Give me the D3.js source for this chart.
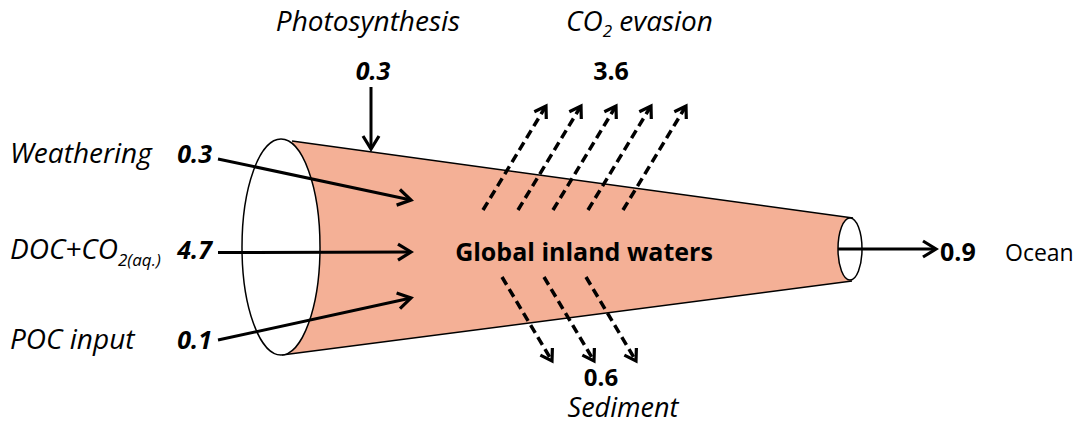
<!DOCTYPE html>
<html>
<head>
<meta charset="utf-8">
<script src="https://cdn.jsdelivr.net/npm/d3@7"></script>
<style>
  body { margin: 0; background: #fff; }
  svg text { font-family: "Open Sans", Lato, sans-serif; fill: #000; }
</style>
</head>
<body>
<div id="chart"></div>
<script>
// carbon fluxes (Pg C / yr)
var inputNames = ["Weathering", "DOC+CO2", "POC input"];
var inputValues = ["0.3", "4.7", "0.1"];
var photoValue = "0.3";
var evasionValue = "3.6";
var sedimentValue = "0.6";
var oceanValue = "0.9";
var evasionArrows = [0, 1, 2, 3, 4];
var sedimentArrows = [0, 1, 2];

var w = 1085, h = 425, fs = 25, fsI = 28, fsR = 23;

var svg = d3.select("#chart").append("svg")
    .attr("width", w)
    .attr("height", h);

var defs = svg.append("defs");
function addMarker(id, len, half) {
  defs.append("marker")
    .attr("id", id)
    .attr("viewBox", (-len - 3) + " " + (-half - 3) + " " + (len + 6) + " " + (2 * half + 6))
    .attr("refX", 0).attr("refY", 0)
    .attr("markerUnits", "userSpaceOnUse")
    .attr("markerWidth", len + 6).attr("markerHeight", 2 * half + 6)
    .attr("orient", "auto")
    .append("path")
    .attr("d", "M" + (-len) + "," + (-half) + " L0,0 L" + (-len) + "," + half)
    .attr("fill", "none")
    .attr("stroke", "#000")
    .attr("stroke-width", 3.2)
    .attr("stroke-linejoin", "miter");
}
addMarker("head", 13, 8);
addMarker("headS", 11, 7);

// river position along the cone
var xRiver = d3.scaleLinear().domain([0, 1]).range([282, 850]);
var topEdge = d3.scaleLinear().domain([0, 1]).range([141, 218]);
var botEdge = d3.scaleLinear().domain([0, 1]).range([355, 281]);

// cone
svg.append("path")
  .attr("d", "M" + (xRiver(0) + 10) + "," + topEdge(0) + " L" + (xRiver(1) + 3) + "," + topEdge(1) +
             " L" + (xRiver(1) + 2) + "," + botEdge(1) + " L" + xRiver(0) + "," + botEdge(0) + "Z")
  .attr("fill", "#F4B096");
svg.append("line")
  .attr("x1", xRiver(0) + 10).attr("y1", topEdge(0))
  .attr("x2", xRiver(1) + 3).attr("y2", topEdge(1))
  .attr("stroke", "#000").attr("stroke-width", 1.5);
svg.append("line")
  .attr("x1", xRiver(0)).attr("y1", botEdge(0))
  .attr("x2", xRiver(1) + 2).attr("y2", botEdge(1))
  .attr("stroke", "#000").attr("stroke-width", 1.5);

// open ends
svg.append("ellipse")
  .attr("cx", 281).attr("cy", 247).attr("rx", 39).attr("ry", 108)
  .attr("fill", "#fff").attr("stroke", "#000").attr("stroke-width", 1.5);
svg.append("ellipse")
  .attr("cx", 850).attr("cy", 249).attr("rx", 12).attr("ry", 31)
  .attr("fill", "#fff").attr("stroke", "#000").attr("stroke-width", 1.5);

// input arrows
var yStart = d3.scalePoint().domain(inputNames).range([159, 340]);
var yEnd = d3.scalePoint().domain(inputNames).range([200, 298]);
var yLabel = d3.scalePoint().domain(inputNames).range([163, 349]);

svg.selectAll("line.input").data(inputNames).enter().append("line")
  .attr("class", "input")
  .attr("x1", 218).attr("y1", function(d) { return yStart(d) + (d == "DOC+CO2" ? 3 : 0); })
  .attr("x2", 411).attr("y2", function(d) { return yEnd(d) + (d == "DOC+CO2" ? 3 : 0); })
  .attr("stroke", "#000").attr("stroke-width", 3)
  .attr("marker-end", "url(#head)");

var lab = svg.selectAll("text.inlab").data(inputNames).enter().append("text")
  .attr("class", "inlab")
  .attr("x", 10)
  .attr("y", function(d) { return yLabel(d) + (d == "DOC+CO2" ? 3 : 0); })
  .attr("font-size", fsI)
  .attr("font-style", "italic");
lab.each(function(d) {
  var t = d3.select(this);
  if (d == "DOC+CO2") {
    t.append("tspan").text("DOC+CO");
    t.append("tspan").attr("font-size", 17).attr("dy", 7).text("2(aq.)");
  } else {
    t.text(d);
  }
});

svg.selectAll("text.inval").data(inputValues).enter().append("text")
  .attr("class", "inval")
  .attr("x", 212)
  .attr("y", function(d, i) { return yLabel(inputNames[i]) + (i == 1 ? 3 : 0); })
  .attr("text-anchor", "end")
  .attr("font-size", fs)
  .attr("font-weight", "bold")
  .attr("font-style", "italic")
  .text(function(d) { return d; });

// photosynthesis
svg.append("text").attr("x", 368).attr("y", 31)
  .attr("text-anchor", "middle").attr("font-size", fsI).attr("font-style", "italic")
  .text("Photosynthesis");
svg.append("text").attr("x", 373).attr("y", 80)
  .attr("text-anchor", "middle").attr("font-size", fs).attr("font-weight", "bold").attr("font-style", "italic")
  .text(photoValue);
svg.append("line")
  .attr("x1", 371).attr("y1", 87).attr("x2", 371).attr("y2", 149)
  .attr("stroke", "#000").attr("stroke-width", 3)
  .attr("marker-end", "url(#head)");

// CO2 evasion
var co2 = svg.append("text").attr("x", 566).attr("y", 31)
  .attr("font-size", fsI).attr("font-style", "italic");
co2.append("tspan").text("CO");
co2.append("tspan").attr("font-size", 17).attr("dy", 6).text("2");
co2.append("tspan").attr("dy", -6).text(" evasion");
svg.append("text").attr("x", 611).attr("y", 80)
  .attr("text-anchor", "middle").attr("font-size", fs).attr("font-weight", "bold")
  .text(evasionValue);

var xEv = d3.scaleLinear().domain([0, evasionArrows.length - 1]).range([483, 623]);
svg.selectAll("line.ev").data(evasionArrows).enter().append("line")
  .attr("class", "ev")
  .attr("x1", function(d) { return xEv(d); }).attr("y1", 210)
  .attr("x2", function(d) { return xEv(d) + 63; }).attr("y2", 106)
  .attr("stroke", "#000").attr("stroke-width", 3.5)
  .attr("stroke-dasharray", "9,5")
  .attr("marker-end", "url(#headS)");

// sediment
var xSed = d3.scaleLinear().domain([0, sedimentArrows.length - 1]).range([502, 586]);
svg.selectAll("line.sed").data(sedimentArrows).enter().append("line")
  .attr("class", "sed")
  .attr("x1", function(d) { return xSed(d); }).attr("y1", 277)
  .attr("x2", function(d) { return xSed(d) + 50; }).attr("y2", 361)
  .attr("stroke", "#000").attr("stroke-width", 3.5)
  .attr("stroke-dasharray", "9,5")
  .attr("marker-end", "url(#headS)");
svg.append("text").attr("x", 601).attr("y", 386)
  .attr("text-anchor", "middle").attr("font-size", 24).attr("font-weight", "bold")
  .text(sedimentValue);
svg.append("text").attr("x", 623).attr("y", 417)
  .attr("text-anchor", "middle").attr("font-size", 27).attr("font-style", "italic")
  .text("Sediment");

// center label
svg.append("text").attr("x", 584).attr("y", 261)
  .attr("text-anchor", "middle").attr("font-size", fs).attr("font-weight", "bold")
  .text("Global inland waters");

// ocean
svg.append("line")
  .attr("x1", 838).attr("y1", 249).attr("x2", 936).attr("y2", 249)
  .attr("stroke", "#000").attr("stroke-width", 3)
  .attr("marker-end", "url(#head)");
svg.append("text").attr("x", 940).attr("y", 261)
  .attr("font-size", fs).attr("font-weight", "bold")
  .text(oceanValue);
svg.append("text").attr("x", 1005).attr("y", 261)
  .attr("font-size", fsR)
  .text("Ocean");
</script>
</body>
</html>
